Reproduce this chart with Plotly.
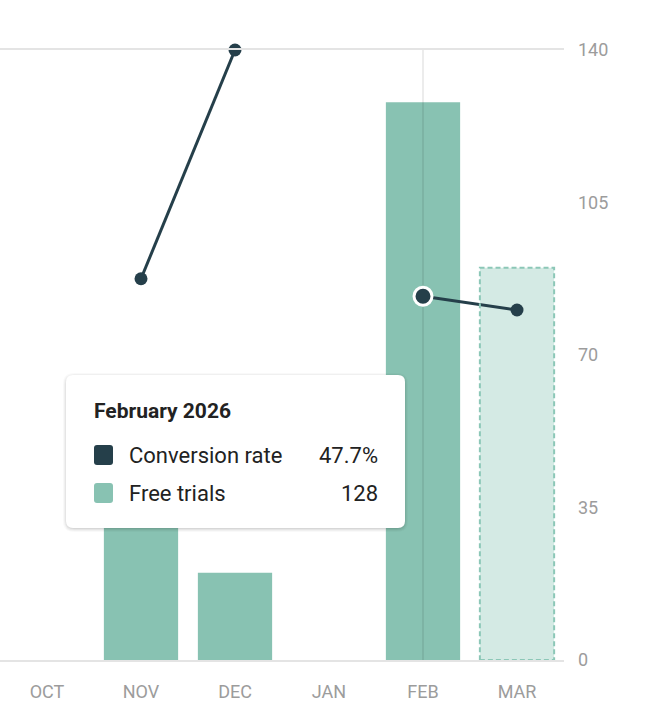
import plotly.graph_objects as go

months = ["OCT", "NOV", "DEC", "JAN", "FEB", "MAR"]
free_trials = [None, 52, 20, None, 128, None]
projected_trials = [None, None, None, None, None, 90]
conversion_rate = [None, 50.0, 80.0, None, 47.7, 45.9]
y_ticks = [0, 35, 70, 105, 140]
hover_month = "FEB"
hover_title = "February 2026"

BAR = "#88c2b2"
BAR_LIGHT = "#d4eae4"
LINE = "#253f4a"
GRID = "#e4e4e4"
TICK = "#9c9c9c"
FONT = "Roboto"
W, H = 667, 720
ML, MR, MT, MB = 0, 103, 50, 60
PW, PH = W - ML - MR, H - MT - MB
BW = 0.79

fig = go.Figure()
fig.add_trace(go.Bar(x=months, y=free_trials, marker=dict(color=BAR, line=dict(width=0)),
                     width=BW, name="Free trials", yaxis="y"))
fig.add_trace(go.Bar(x=months, y=projected_trials, marker=dict(color=BAR_LIGHT, line=dict(width=0)),
                     width=BW, name="Projected", yaxis="y"))
# hover spike line
fig.add_trace(go.Scatter(x=[hover_month, hover_month], y=[0, y_ticks[-1]], mode="lines",
                         line=dict(color="rgba(0,0,0,0.13)", width=1.2), yaxis="y", hoverinfo="skip",
                         cliponaxis=False))
hi = months.index(hover_month)
sizes = [13] * len(months)
lw = [0] * len(months)
sizes[hi] = 18
lw[hi] = 3
fig.add_trace(go.Scatter(x=months, y=conversion_rate, mode="lines+markers", connectgaps=False,
                         line=dict(color=LINE, width=3), cliponaxis=False,
                         marker=dict(color=LINE, size=sizes, opacity=1, line=dict(color="white", width=lw)),
                         yaxis="y2", name="Conversion rate"))

shapes = []
# dashed outline for projected bars
for i, v in enumerate(projected_trials):
    if v is not None:
        shapes.append(dict(type="rect", xref="x", yref="y", x0=i - BW / 2, x1=i + BW / 2, y0=0, y1=v,
                           line=dict(color="#8cc7b7", width=2, dash="5px,3px"), fillcolor="rgba(0,0,0,0)",
                           layer="above"))

def px(x):
    return (x - ML) / PW

def py(y):
    return (MT + PH - y) / PH

# tooltip box
bx0, bx1, by0, by1, r = 66, 405, 375, 528, 7

def rounded(x0, x1, y0, y1, r):
    return (f"M {px(x0 + r)},{py(y0)} L {px(x1 - r)},{py(y0)} Q {px(x1)},{py(y0)} {px(x1)},{py(y0 + r)} "
            f"L {px(x1)},{py(y1 - r)} Q {px(x1)},{py(y1)} {px(x1 - r)},{py(y1)} "
            f"L {px(x0 + r)},{py(y1)} Q {px(x0)},{py(y1)} {px(x0)},{py(y1 - r)} "
            f"L {px(x0)},{py(y0 + r)} Q {px(x0)},{py(y0)} {px(x0 + r)},{py(y0)} Z")

for k, a in [(4, 0.025), (3, 0.035), (2, 0.045), (1, 0.06)]:
    shapes.append(dict(type="path", xref="paper", yref="paper", layer="above",
                       path=rounded(bx0 - k + 1, bx1 + k - 1, by0 - k + 2, by1 + k, r + k),
                       fillcolor=f"rgba(0,0,0,{a})", line=dict(width=0)))
shapes.append(dict(type="path", xref="paper", yref="paper", layer="above",
                   path=rounded(bx0, bx1, by0, by1, r), fillcolor="white", line=dict(width=0)))

rows = [("Conversion rate", f"{conversion_rate[hi]:.1f}%", LINE, 455),
        ("Free trials", f"{free_trials[hi]}", BAR, 493)]
annotations = [dict(xref="paper", yref="paper", x=px(92), y=py(411), xanchor="left", yanchor="middle",
                    text=f"<b>{hover_title}</b>", showarrow=False, font=dict(family=FONT, size=21, color="#222222"))]
for label, val, col, cy in rows:
    shapes.append(dict(type="path", xref="paper", yref="paper", layer="above",
                       path=rounded(94, 113, cy - 10, cy + 10, 3), fillcolor=col, line=dict(width=0)))
    annotations.append(dict(xref="paper", yref="paper", x=px(127), y=py(cy), xanchor="left", yanchor="middle",
                            text=label, showarrow=False, font=dict(family=FONT, size=22, color="#222222")))
    annotations.append(dict(xref="paper", yref="paper", x=px(380), y=py(cy), xanchor="right", yanchor="middle",
                            text=val, showarrow=False, font=dict(family=FONT, size=22, color="#222222")))

fig.update_layout(
    width=W, height=H, margin=dict(l=ML, r=MR, t=MT, b=MB),
    paper_bgcolor="white", plot_bgcolor="white", showlegend=False, barmode="overlay",
    font=dict(family=FONT), hovermode=False,
    xaxis=dict(type="category", categoryorder="array", categoryarray=months, showgrid=False,
               showline=True, mirror=True, linecolor=GRID, linewidth=1.5, zeroline=False, ticks="",
               ticklabelstandoff=15,
               tickfont=dict(family=FONT, size=18, color=TICK), range=[-0.5, len(months) - 0.5]),
    yaxis=dict(side="right", range=[0, y_ticks[-1]], tickvals=y_ticks, showgrid=False,
               zeroline=False, showline=False, ticks="", ticklabelstandoff=13,
               tickfont=dict(family=FONT, size=18, color=TICK)),
    yaxis2=dict(overlaying="y", range=[0, 80], visible=False),
    shapes=shapes, annotations=annotations,
)
fig.write_html("out.html", config={"displayModeBar": False},
               post_script="document.body.style.margin='0';document.body.style.padding='0';")
